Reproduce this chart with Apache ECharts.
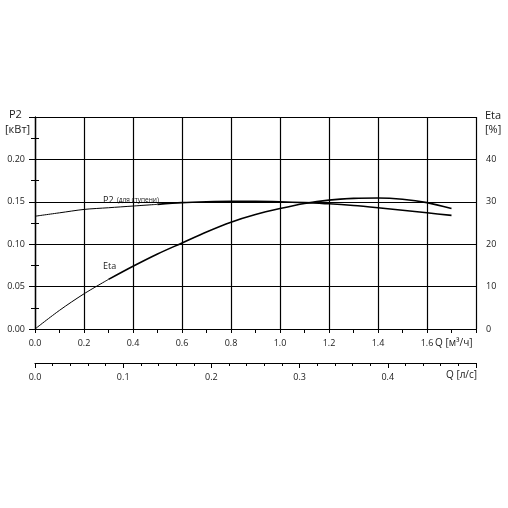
<!DOCTYPE html>
<html>
<head>
<meta charset="utf-8">
<script src="https://cdn.jsdelivr.net/npm/echarts@6/dist/echarts.min.js"></script>
<style>
  html, body { margin: 0; padding: 0; background: #fff; }
  #chart { width: 508px; height: 508px; }
</style>
</head>
<body>
<div id="chart"></div>
<script>
// flow, m3/h
var flow = [0, 0.1, 0.2, 0.3, 0.4, 0.5, 0.6, 0.7, 0.8, 0.9, 1.0, 1.1, 1.2, 1.3, 1.4, 1.5, 1.6, 1.7];
// power per stage, kW
var p2 = [0.133, 0.137, 0.141, 0.143, 0.145, 0.147, 0.149, 0.150, 0.1505, 0.1505, 0.150, 0.149, 0.1477, 0.1457, 0.143, 0.140, 0.137, 0.134];
// efficiency, %
var eta = [0, 4.4, 8.3, 11.7, 14.8, 17.7, 20.3, 22.9, 25.2, 27.0, 28.4, 29.6, 30.4, 30.8, 30.9, 30.6, 29.8, 28.4];

// where the thin (extrapolated) part of each curve ends
var p2Split = 5;
var etaSplit = 3;

function pairs(xs, ys, from, to) {
    var out = [];
    for (var i = from; i <= to; i++) out.push([xs[i], ys[i]]);
    return out;
}

var font = 'Open Sans';
var black = '#000';
var textColor = '#1a1a1a';

var chart = echarts.init(document.getElementById('chart'));

chart.setOption({
    backgroundColor: '#fff',
    animation: false,
    textStyle: { fontFamily: font },
    grid: { left: 35, right: 32, top: 117, bottom: 179 },
    xAxis: [{
        type: 'value',
        min: 0, max: 1.8, interval: 0.2,
        axisLine: { lineStyle: { color: black, width: 1.2 } },
        axisTick: { length: 4, lineStyle: { color: black } },
        minorTick: { show: true, splitNumber: 2, length: 4, lineStyle: { color: black } },
        splitLine: { show: true, lineStyle: { color: black, width: 1.2 } },
        axisLabel: {
            margin: 10, fontSize: 9, color: textColor, fontFamily: font,
            formatter: function (v) { return v > 1.7 ? '' : v.toFixed(1); }
        }
    }, {
        type: 'value',
        position: 'bottom',
        offset: 34,
        min: 0, max: 0.5, interval: 0.1,
        axisLine: { onZero: false, lineStyle: { color: black, width: 1.2 } },
        axisTick: { length: 5, lineStyle: { color: black } },
        minorTick: { show: true, splitNumber: 5, length: 3, lineStyle: { color: black } },
        splitLine: { show: false },
        axisLabel: {
            margin: 10, fontSize: 9, color: textColor, fontFamily: font,
            formatter: function (v) { return v > 0.45 ? '' : v.toFixed(1); }
        }
    }],
    yAxis: [{
        type: 'value',
        position: 'left',
        min: 0, max: 0.25, interval: 0.05,
        axisLine: { show: true, lineStyle: { color: black, width: 1.2 } },
        axisTick: { show: true, length: 6, lineStyle: { color: black } },
        minorTick: { show: true, splitNumber: 2, length: 4, lineStyle: { color: black } },
        splitLine: { show: true, lineStyle: { color: black, width: 1.2 } },
        axisLabel: {
            margin: 10, fontSize: 9, color: textColor, fontFamily: font,
            formatter: function (v) { return v > 0.24 ? '' : v.toFixed(2); }
        }
    }, {
        type: 'value',
        position: 'right',
        min: 0, max: 50, interval: 10,
        axisLine: { show: true, lineStyle: { color: black, width: 1.2 } },
        axisTick: { show: true, length: 6, lineStyle: { color: black } },
        minorTick: { show: true, splitNumber: 2, length: 4, lineStyle: { color: black } },
        splitLine: { show: false },
        axisLabel: {
            margin: 10, fontSize: 9, color: textColor, fontFamily: font,
            formatter: function (v) { return v > 45 ? '' : String(v); }
        }
    }],
    series: [{
        type: 'line', name: 'P2 thin', xAxisIndex: 0, yAxisIndex: 0,
        data: pairs(flow, p2, 0, p2Split), smooth: 0.3, showSymbol: false,
        lineStyle: { color: black, width: 1 }
    }, {
        type: 'line', name: 'P2', xAxisIndex: 0, yAxisIndex: 0,
        data: pairs(flow, p2, p2Split, flow.length - 1), smooth: 0.3, showSymbol: false,
        lineStyle: { color: black, width: 1.6 }
    }, {
        type: 'line', name: 'Eta thin', xAxisIndex: 0, yAxisIndex: 1,
        data: pairs(flow, eta, 0, etaSplit), smooth: 0.3, showSymbol: false,
        lineStyle: { color: black, width: 1 }
    }, {
        type: 'line', name: 'Eta', xAxisIndex: 0, yAxisIndex: 1,
        data: pairs(flow, eta, etaSplit, flow.length - 1), smooth: 0.3, showSymbol: false,
        lineStyle: { color: black, width: 1.6 }
    }],
    graphic: [
        { type: 'text', left: 9, top: 109, style: { text: 'P2', font: '11px "Open Sans"', fill: textColor } },
        { type: 'text', left: 5, top: 124, style: { text: '[кВт]', font: '11px "Open Sans"', fill: textColor } },
        { type: 'text', left: 485, top: 110, style: { text: 'Eta', font: '11px "Open Sans"', fill: textColor } },
        { type: 'text', left: 485, top: 124, style: { text: '[%]', font: '11px "Open Sans"', fill: textColor } },
        { type: 'text', left: 435, top: 338, style: { text: 'Q [м³/ч]', font: '10px "Open Sans"', fill: textColor } },
        { type: 'text', left: 446, top: 370, style: { text: 'Q [л/с]', font: '10px "Open Sans"', fill: textColor } },
        { type: 'text', left: 103, top: 194, style: {
            text: '{a|P2} {b|(для ступени)}',
            rich: {
                a: { fontSize: 9, fontFamily: font, fill: textColor },
                b: { fontSize: 6.5, fontFamily: font, fill: textColor }
            }
        } },
        { type: 'text', left: 103, top: 262, style: { text: 'Eta', font: '9px "Open Sans"', fill: textColor } }
    ]
});
</script>
</body>
</html>
